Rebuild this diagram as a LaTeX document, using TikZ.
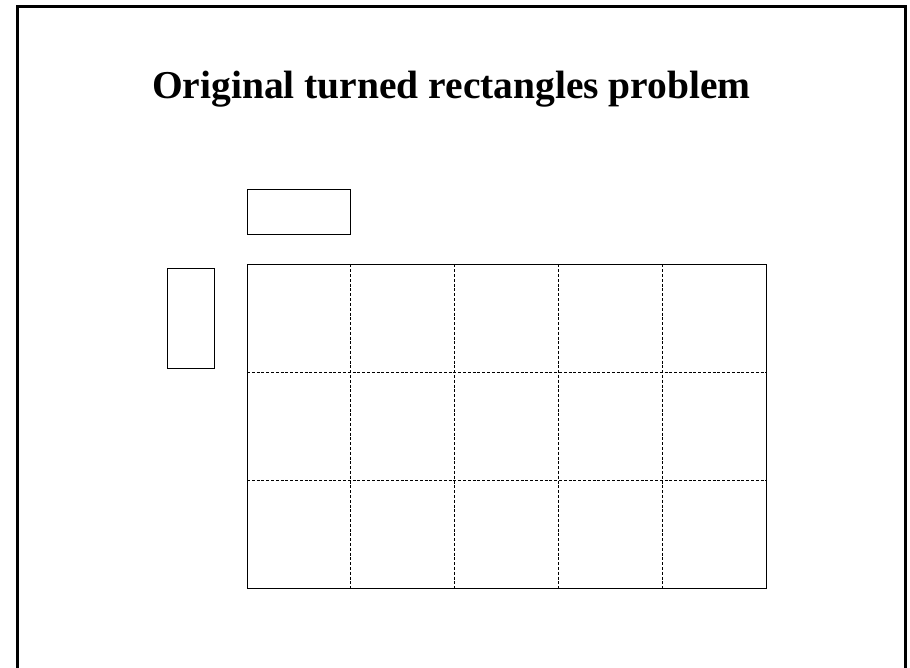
\documentclass[tikz,border=0pt]{standalone}
\usepackage{fontspec}
\setmainfont{Liberation Serif}
\begin{document}
\begin{tikzpicture}[x=1pt,y=-1pt,
  frame/.style={line width=2.6pt},
  piece/.style={draw,line width=0.9pt,inner sep=0pt,outer sep=0pt},
  cellline/.style={line width=0.9pt,dash pattern=on 3pt off 1.8pt},
  title/.style={font=\fontsize{39.5}{44}\selectfont\bfseries,anchor=base}]
\useasboundingbox (0,0) rectangle (910,668);
\draw[frame] (17.5,672) -- (17.5,6.5) -- (905.5,6.5) -- (905.5,672);
\node[title] (t) at (451.5,99) {Original turned rectangles problem};
\node[piece,minimum width=103pt,minimum height=44.5pt] (h) at (298.8,211.8) {};
\node[piece,minimum width=47.5pt,minimum height=100.5pt] (v) at (191,318.5) {};
\foreach \i in {1,2,3,4} {
  \draw[cellline] (247+\i*103.9,264.5) -- (247+\i*103.9,588);
}
\foreach \j in {1,2} {
  \draw[cellline] (247,264.5+\j*107.8) -- (766.5,264.5+\j*107.8);
}
\node[piece,minimum width=519.5pt,minimum height=323.5pt] (g) at (506.75,426.25) {};
\end{tikzpicture}
\end{document}
